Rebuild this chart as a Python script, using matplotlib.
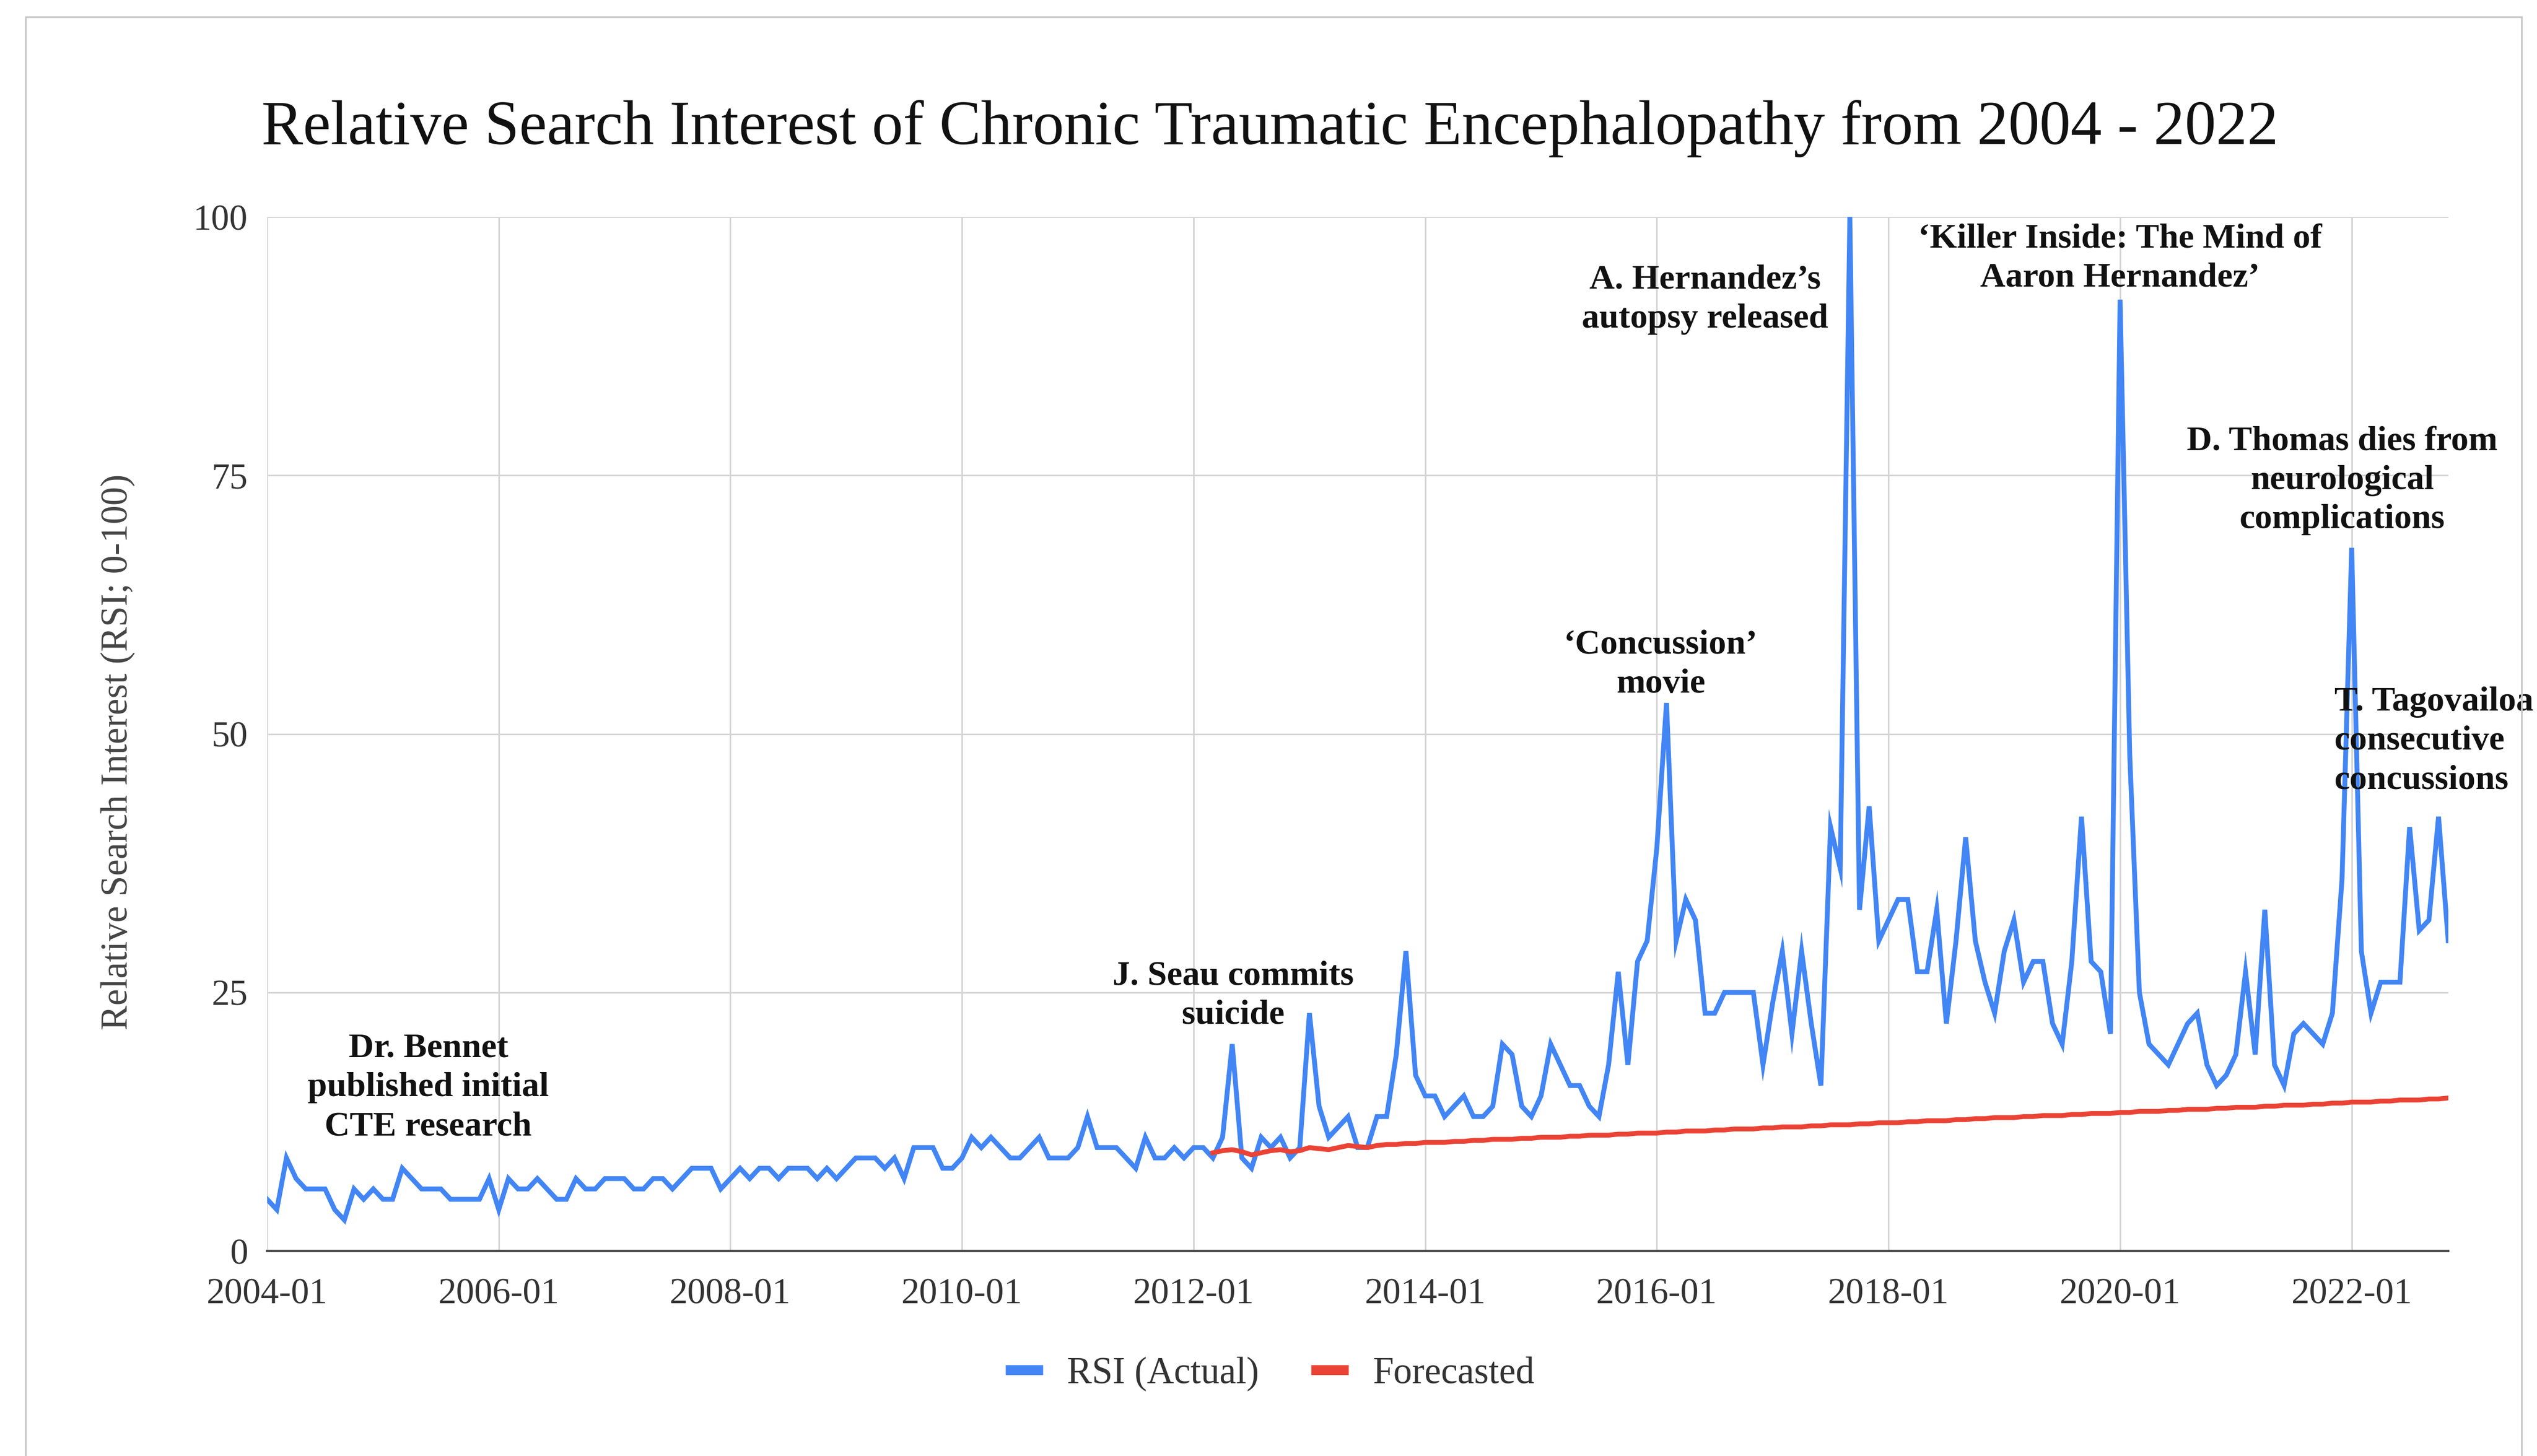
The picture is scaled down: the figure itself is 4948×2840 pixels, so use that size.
import numpy as np
import matplotlib
matplotlib.use("Agg")
import matplotlib.pyplot as plt
from matplotlib.lines import Line2D
from matplotlib.patches import Rectangle

plt.rcParams['font.family'] = ['Liberation Serif', 'DejaVu Serif']

# monthly relative search interest, 2004-01 .. 2022-11
rsi_actual = [
    5, 4, 9, 7, 6, 6, 6, 4, 3, 6, 5, 6,          # 2004
    5, 5, 8, 7, 6, 6, 6, 5, 5, 5, 5, 7,          # 2005
    4, 7, 6, 6, 7, 6, 5, 5, 7, 6, 6, 7,          # 2006
    7, 7, 6, 6, 7, 7, 6, 7, 8, 8, 8, 6,          # 2007
    7, 8, 7, 8, 8, 7, 8, 8, 8, 7, 8, 7,          # 2008
    8, 9, 9, 9, 8, 9, 7, 10, 10, 10, 8, 8,       # 2009
    9, 11, 10, 11, 10, 9, 9, 10, 11, 9, 9, 9,    # 2010
    10, 13, 10, 10, 10, 9, 8, 11, 9, 9, 10, 9,   # 2011
    10, 10, 9, 11, 20, 9, 8, 11, 10, 11, 9, 10,  # 2012
    23, 14, 11, 12, 13, 10, 10, 13, 13, 19, 29, 17,  # 2013
    15, 15, 13, 14, 15, 13, 13, 14, 20, 19, 14, 13,  # 2014
    15, 20, 18, 16, 16, 14, 13, 18, 27, 18, 28, 30,  # 2015
    39, 53, 30, 34, 32, 23, 23, 25, 25, 25, 25, 18,  # 2016
    24, 29, 21, 29, 22, 16, 41, 37, 100, 33, 43, 30,  # 2017
    32, 34, 34, 27, 27, 33, 22, 30, 40, 30, 26, 23,  # 2018
    29, 32, 26, 28, 28, 22, 20, 28, 42, 28, 27, 21,  # 2019
    92, 48, 25, 20, 19, 18, 20, 22, 23, 18, 16, 17,  # 2020
    19, 27, 19, 33, 18, 16, 21, 22, 21, 20, 23, 36,  # 2021
    68, 29, 23, 26, 26, 26, 41, 31, 32, 42, 30,      # 2022
]

# forecast starts 2012-03 (month index 98)
forecast_start = 98
forecast = [
    9.5, 9.7, 9.8, 9.6, 9.3, 9.5, 9.7, 9.8, 9.6, 9.7,                  # 2012
    10.0, 9.9, 9.8, 10.0, 10.2, 10.1, 10.0, 10.2, 10.3, 10.3, 10.4, 10.4,  # 2013
    10.5, 10.5, 10.5, 10.6, 10.6, 10.7, 10.7, 10.8, 10.8, 10.8, 10.9, 10.9,  # 2014
    11.0, 11.0, 11.0, 11.1, 11.1, 11.2, 11.2, 11.2, 11.3, 11.3, 11.4, 11.4,  # 2015
    11.4, 11.5, 11.5, 11.6, 11.6, 11.6, 11.7, 11.7, 11.8, 11.8, 11.8, 11.9,  # 2016
    11.9, 12.0, 12.0, 12.0, 12.1, 12.1, 12.2, 12.2, 12.2, 12.3, 12.3, 12.4,  # 2017
    12.4, 12.4, 12.5, 12.5, 12.6, 12.6, 12.6, 12.7, 12.7, 12.8, 12.8, 12.9,  # 2018
    12.9, 12.9, 13.0, 13.0, 13.1, 13.1, 13.1, 13.2, 13.2, 13.3, 13.3, 13.3,  # 2019
    13.4, 13.4, 13.5, 13.5, 13.5, 13.6, 13.6, 13.7, 13.7, 13.7, 13.8, 13.8,  # 2020
    13.9, 13.9, 13.9, 14.0, 14.0, 14.1, 14.1, 14.1, 14.2, 14.2, 14.3, 14.3,  # 2021
    14.4, 14.4, 14.4, 14.5, 14.5, 14.6, 14.6, 14.6, 14.7, 14.7, 14.8,        # 2022
]

tick_months = [0, 24, 48, 72, 96, 120, 144, 168, 192, 216]
tick_labels = ['2004-01', '2006-01', '2008-01', '2010-01', '2012-01',
               '2014-01', '2016-01', '2018-01', '2020-01', '2022-01']
y_ticks = [0, 25, 50, 75, 100]

# (text, month position, y value, horizontal alignment)
events = [
    ("Dr. Bennet\npublished initial\nCTE research", 16.7, 15.8, 'center'),
    ("J. Seau commits\nsuicide", 100.1, 24.7, 'center'),
    ("\u2018Concussion\u2019\nmovie", 144.4, 56.7, 'center'),
    ("A. Hernandez\u2019s\nautopsy released", 149.0, 92.0, 'center'),
    ("\u2018Killer Inside: The Mind of\nAaron Hernandez\u2019", 192.0, 96.0, 'center'),
    ("D. Thomas dies from\nneurological\ncomplications", 215.0, 74.5, 'center'),
    ("T. Tagovailoa\nconsecutive\nconcussions", 214.2, 49.3, 'left'),
]

blue = '#4285F4'
red = '#EA4335'

fig = plt.figure(figsize=(49.48, 28.4), dpi=100)
ax = fig.add_axes([0.1053, 0.1408, 0.8597, 0.7102])

months = np.arange(len(rsi_actual))
f_months = np.arange(forecast_start, forecast_start + len(forecast))

ax.plot(months, rsi_actual, color=blue, lw=6.8, zorder=3, solid_joinstyle='miter')
ax.plot(f_months, forecast, color=red, lw=6.8, zorder=4)

ax.set_xlim(0, len(rsi_actual) - 1)
ax.set_ylim(0, 100)
ax.set_xticks(tick_months)
ax.set_xticklabels(tick_labels)
ax.set_yticks(y_ticks)
ax.tick_params(axis='both', length=0, labelsize=51, colors='#333333')
ax.tick_params(axis='x', pad=38)
ax.tick_params(axis='y', pad=27)
ax.grid(True, color='#d4d4d4', lw=2.2, zorder=0)
ax.set_axisbelow(True)
for s in ['top', 'right', 'left']:
    ax.spines[s].set_visible(False)
ax.spines['bottom'].set_color('#444444')
ax.spines['bottom'].set_linewidth(3.2)

for txt, xm, yv, ha in events:
    ax.text(xm, yv, txt, ha=ha, va='center', fontsize=49, fontweight='bold',
            color='#111111', linespacing=1.33, clip_on=False, zorder=5)

fig.text(0.5006, 0.9115,
         'Relative Search Interest of Chronic Traumatic Encephalopathy from 2004 - 2022',
         ha='center', va='center', fontsize=87.5, color='#111111')
fig.text(0.0465, 0.4835, 'Relative Search Interest (RSI; 0-100)', rotation=90,
         ha='center', va='center', fontsize=52.5, color='#444444')

handles = [Line2D([0], [0], color=blue, lw=14, solid_capstyle='butt'),
           Line2D([0], [0], color=red, lw=14, solid_capstyle='butt')]
leg = fig.legend(handles, ['RSI (Actual)', 'Forecasted'], loc='center',
                 bbox_to_anchor=(0.5006, 0.0563), ncol=2, frameon=False,
                 fontsize=52.5, handlelength=1.0, handletextpad=0.65, columnspacing=1.4)
for t in leg.get_texts():
    t.set_color('#333333')

# outer chart border
fig.patches.append(Rectangle((0.0101, -0.05), 0.9838, 1.0384, transform=fig.transFigure,
                             fill=False, edgecolor='#c8c8c8', lw=2.5))

fig.savefig('out.png', dpi=100, facecolor='white')
